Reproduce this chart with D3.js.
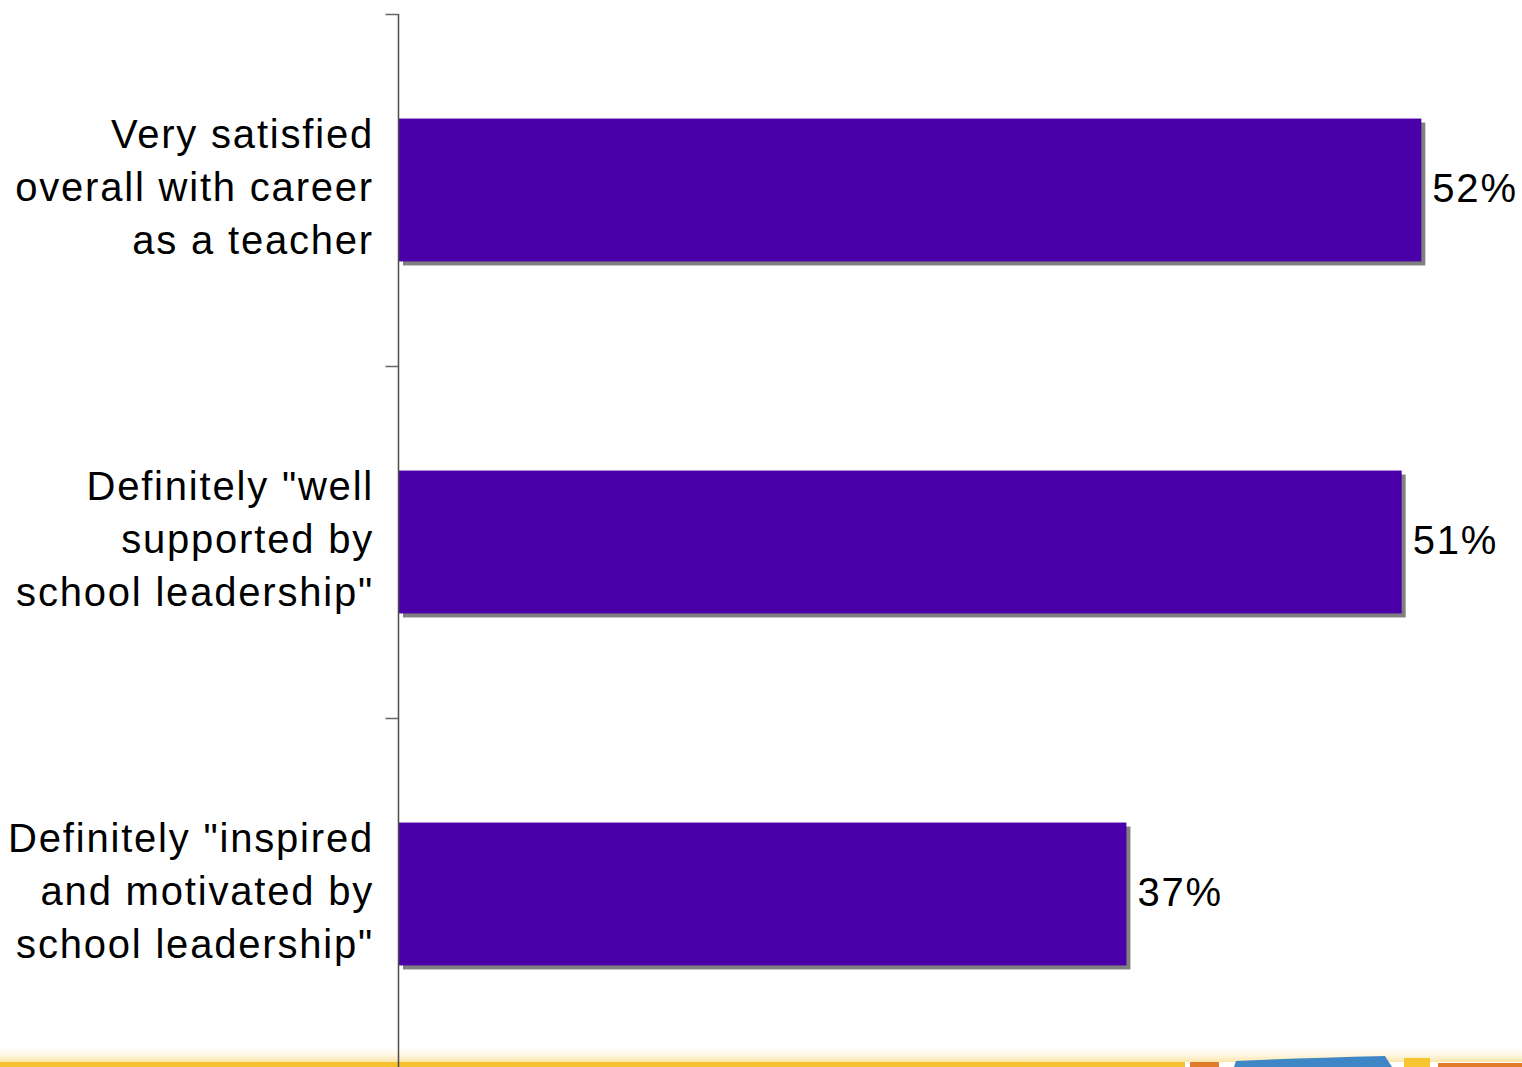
<!DOCTYPE html>
<html>
<head>
<meta charset="utf-8">
<script src="https://cdn.jsdelivr.net/npm/d3@7"></script>
<style>
  html, body { margin: 0; padding: 0; background: #fff; }
  svg { display: block; }
</style>
</head>
<body>
<div id="chart-container"></div>
<script>
// chart data
var categories = [
    ["Very satisfied", "overall with career", "as a teacher"],
    ["Definitely \"well", "supported by", "school leadership\""],
    ["Definitely \"inspired", "and motivated by", "school leadership\""]
];
var values = [0.52, 0.51, 0.37];
var valueLabels = ["52%", "51%", "37%"];

var svgWidth = 1522;
var svgHeight = 1067;
var labelSpacing = "1.8px";

var svg = d3.select('#chart-container')
    .append('svg')
    .attr('width', svgWidth)
    .attr('height', svgHeight);

// scales
var y = d3.scaleBand()
    .domain(d3.range(categories.length))
    .range([14, 1070])
    .paddingInner(0.594)
    .paddingOuter(0.297);

var x = d3.scaleLinear()
    .domain([0, 0.6])
    .range([399, 399 + 60 * 19.66]);

// bottom decoration (slide footer)
var defs = svg.append("defs");
var grad = defs.append("linearGradient")
    .attr("id", "footerFade")
    .attr("x1", 0).attr("y1", 0).attr("x2", 0).attr("y2", 1);
grad.append("stop").attr("offset", "0%").attr("stop-color", "#fff").attr("stop-opacity", 0);
grad.append("stop").attr("offset", "100%").attr("stop-color", "#fbe6a8").attr("stop-opacity", 1);

svg.append("rect")
    .attr("x", 0).attr("y", 1045)
    .attr("width", svgWidth).attr("height", 17)
    .attr("fill", "url(#footerFade)");
svg.append("rect")
    .attr("x", 0).attr("y", 1062)
    .attr("width", 1185).attr("height", 5)
    .attr("fill", "#f5c12e");
svg.append("rect")
    .attr("x", 1190).attr("y", 1062)
    .attr("width", 29).attr("height", 5)
    .attr("fill", "#e07b2a");
svg.append("path")
    .attr("d", "M1234,1067 L1236,1061 Q1300,1058 1385,1056 L1392,1067 Z")
    .attr("fill", "#3f86c6");
svg.append("rect")
    .attr("x", 1404).attr("y", 1058)
    .attr("width", 26).attr("height", 9)
    .attr("fill", "#f6c531");
svg.append("rect")
    .attr("x", 1438).attr("y", 1063)
    .attr("width", 84).attr("height", 4)
    .attr("fill", "#e07b2a");

// shadows
svg.selectAll(".shadow")
    .data(values)
    .enter().append("rect")
    .attr("class", "shadow")
    .attr("x", x(0) + 4)
    .attr("y", function(d, i) { return y(i) + 4; })
    .attr("width", function(d) { return x(d) - x(0); })
    .attr("height", y.bandwidth())
    .attr("fill", "#808080");

// bars
svg.selectAll(".bar")
    .data(values)
    .enter().append("rect")
    .attr("class", "bar")
    .attr("x", x(0))
    .attr("y", function(d, i) { return y(i); })
    .attr("width", function(d) { return x(d) - x(0); })
    .attr("height", y.bandwidth())
    .attr("fill", "#4a00a8");

// axis
var axis = svg.append('g')
    .attr('transform', 'translate(398.5,0)')
    .call(d3.axisLeft(y).tickSize(0).tickFormat(""));
axis.select(".domain").remove();
axis.append("line")
    .attr("x1", 0).attr("x2", 0)
    .attr("y1", 14).attr("y2", svgHeight)
    .attr("stroke", "#4d4d4d").attr("stroke-width", 1.5);
// tick marks between categories
var tickYs = d3.range(categories.length).map(function(i) { return y(i) - y.step() * y.paddingOuter(); });
axis.selectAll(".sep")
    .data(tickYs)
    .enter().append("line")
    .attr("class", "sep")
    .attr("x1", -13).attr("x2", 0)
    .attr("y1", function(d) { return Math.round(d) + 0.5; })
    .attr("y2", function(d) { return Math.round(d) + 0.5; })
    .attr("stroke", "#666").attr("stroke-width", 1.5);

// category labels
var labels = svg.selectAll(".cat")
    .data(categories)
    .enter().append("text")
    .attr("class", "cat")
    .attr("text-anchor", "end")
    .style("font-family", "'Liberation Sans', Arial, sans-serif")
    .style("font-size", "40px")
    .style("letter-spacing", labelSpacing)
    .attr("fill", "#000");
labels.each(function(lines, i) {
    var cy = y(i) + y.bandwidth() / 2;
    d3.select(this).selectAll("tspan")
        .data(lines)
        .enter().append("tspan")
        .attr("x", 374)
        .attr("y", function(d, j) { return cy + (j - 1) * 53 + 11; })
        .text(function(d) { return d; });
});

// value labels
svg.selectAll(".val")
    .data(values)
    .enter().append("text")
    .attr("class", "val")
    .attr("x", function(d) { return x(d) + 11; })
    .attr("y", function(d, i) { return y(i) + y.bandwidth() / 2 + 12; })
    .style("font-family", "'Liberation Sans', Arial, sans-serif")
    .style("font-size", "40px")
    .style("letter-spacing", labelSpacing)
    .attr("fill", "#000")
    .text(function(d, i) { return valueLabels[i]; });
</script>
</body>
</html>
